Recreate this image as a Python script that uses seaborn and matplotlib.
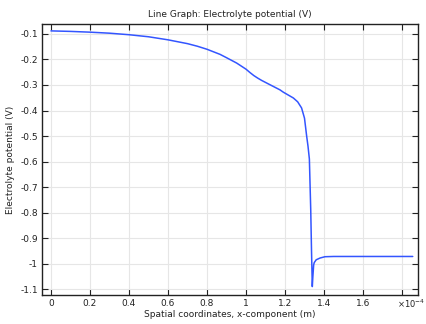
import matplotlib
matplotlib.use("Agg")
import matplotlib.pyplot as plt
import seaborn as sns
import pandas as pd

x_vals = [0.0, 0.1, 0.2, 0.3, 0.4, 0.5, 0.6, 0.7, 0.75, 0.8, 0.867, 0.9, 0.952, 1.0, 1.02,
          1.04, 1.06, 1.08, 1.123, 1.174, 1.191, 1.243, 1.265, 1.285, 1.3, 1.311, 1.318,
          1.325, 1.332, 1.336, 1.340, 1.343, 1.347, 1.350, 1.36, 1.38, 1.405, 1.45, 1.5,
          1.6, 1.7, 1.8, 1.855]
y_vals = [-0.088, -0.090, -0.093, -0.097, -0.103, -0.111, -0.123, -0.138, -0.148, -0.160,
          -0.180, -0.193, -0.214, -0.238, -0.251, -0.263, -0.273, -0.282, -0.299, -0.319,
          -0.328, -0.351, -0.366, -0.390, -0.43, -0.50, -0.54, -0.59, -0.79, -0.95, -1.09,
          -1.05, -1.005, -0.996, -0.985, -0.978, -0.973, -0.972, -0.972, -0.972, -0.972,
          -0.972, -0.972]

title = "Line Graph: Electrolyte potential (V)"
xlabel = "Spatial coordinates, x-component (m)"
ylabel = "Electrolyte potential (V)"
xticks = [0, 0.2, 0.4, 0.6, 0.8, 1.0, 1.2, 1.4, 1.6, 1.8]
xticklabels = ["0", "0.2", "0.4", "0.6", "0.8", "1", "1.2", "1.4", "1.6", ""]
yticks = [-0.1, -0.2, -0.3, -0.4, -0.5, -0.6, -0.7, -0.8, -0.9, -1.0, -1.1]
yticklabels = ["-0.1", "-0.2", "-0.3", "-0.4", "-0.5", "-0.6", "-0.7", "-0.8", "-0.9", "-1", "-1.1"]
multiplier = "×10$^{-4}$"

df = pd.DataFrame({"x": x_vals, "y": y_vals})

sns.set_theme(style="whitegrid")
plt.rcParams['font.family'] = ['DejaVu Sans']

fig = plt.figure(figsize=(4.27, 3.24), dpi=100)
ax = fig.add_axes([42/427, 1 - 295/324, (418-42)/427, (295-24)/324])
sns.lineplot(data=df, x="x", y="y", ax=ax, color="#3355ff", linewidth=1.1)

ax.set_xlim(-0.046, 1.882)
ax.set_ylim(-1.123, -0.061)
ax.set_xticks(xticks)
ax.set_xticklabels(xticklabels)
ax.set_yticks(yticks)
ax.set_yticklabels(yticklabels)
ax.grid(True, color="#e6e6e6", linewidth=0.8)
for s in ax.spines.values():
    s.set_color("#222222")
    s.set_linewidth(1.0)
ax.tick_params(axis="both", which="both", direction="in", length=4, width=0.8,
               top=True, right=True, bottom=True, left=True, labelsize=6.5,
               colors="#222222", pad=3)
ax.set_title(title, fontsize=6.5, pad=5, color="#222222")
ax.set_xlabel(xlabel, fontsize=6.5, labelpad=1, color="#222222")
ax.set_ylabel(ylabel, fontsize=6.5, labelpad=4, color="#222222")
fig.text(397/427, 1 - 304/324, multiplier, fontsize=6, color="#222222", va="center")

fig.savefig("out.png", dpi=100)
